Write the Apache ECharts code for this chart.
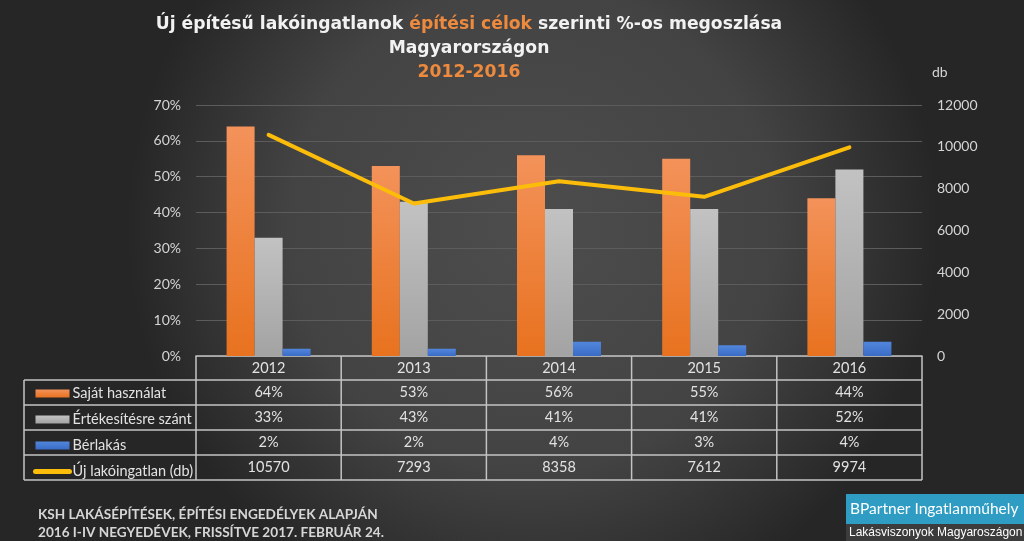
<!DOCTYPE html>
<html>
<head>
<meta charset="utf-8">
<script src="https://cdn.jsdelivr.net/npm/echarts@6/dist/echarts.min.js"></script>
<style>html,body{margin:0;padding:0;background:#333;}#c{width:1024px;height:541px;}</style>
</head>
<body>
<div id="c"></div>
<script>
const categories = ['2012', '2013', '2014', '2015', '2016'];
const sajatHasznalat = [64, 53, 56, 55, 44];
const ertekesitesre = [33, 43, 41, 41, 52];
const berlakas = [2, 2, 4, 3, 4];
const ujLakoingatlan = [10570, 7293, 8358, 7612, 9974];
const seriesNames = ['Saját használat', 'Értékesítésre szánt', 'Bérlakás', 'Új lakóingatlan (db)'];

const FONT = 'Lato';
const txt = '#e2e2e2';
const tableLine = '#c4c4c4';

const chart = echarts.init(document.getElementById('c'), null, {renderer: 'canvas'});

function grad(top, bottom) {
  return {type: 'linear', x: 0, y: 0, x2: 0, y2: 1, colorStops: [{offset: 0, color: top}, {offset: 1, color: bottom}]};
}

const option = {
  backgroundColor: {
    type: 'radial', x: 0.52, y: 0.42, r: 0.75,
    colorStops: [{offset: 0, color: '#4d4d4d'}, {offset: 0.6, color: '#434343'}, {offset: 1, color: '#262626'}]
  },
  animation: false,
  title: {
    left: 464, top: 8, textAlign: 'center',
    text: '{w|Új építésű lakóingatlanok }{o|építési célok}{w| szerinti %-os megoszlása}\n{w|Magyarországon}\n{o|2012-2016}',
    textStyle: {
      rich: {
        w: {color: '#f2f2f2', fontFamily: 'DejaVu Sans', fontWeight: 'bold', fontSize: 17.2, lineHeight: 24},
        o: {color: '#ed8a3e', fontFamily: 'DejaVu Sans', fontWeight: 'bold', fontSize: 17.2, lineHeight: 24}
      }
    }
  },
  legend: {
    orient: 'vertical', left: 28, top: 381,
    itemWidth: 34, itemHeight: 8, itemGap: 11,
    textStyle: {color: txt, fontFamily: FONT, fontSize: 14.5, lineHeight: 14, padding: [0, 0, 0, -2]},
    data: [
      {name: seriesNames[0], icon: 'rect'},
      {name: seriesNames[1], icon: 'rect'},
      {name: seriesNames[2], icon: 'rect'},
      {name: seriesNames[3], itemStyle: {opacity: 0}, lineStyle: {width: 5, cap: 'round', color: '#fbbd0a'}}
    ]
  },
  grid: {left: 196, right: 102, top: 105, bottom: 185, containLabel: false},
  xAxis: {
    type: 'category', data: categories,
    axisLine: {show: true, lineStyle: {color: tableLine, width: 1.5}},
    axisTick: {show: false},
    axisLabel: {
      margin: 0, interval: 0,
      formatter: function (v, i) {
        return '{y|' + v + '}\n{c|' + sajatHasznalat[i] + '%}\n{c|' + ertekesitesre[i] + '%}\n{c|' + berlakas[i] + '%}\n{c|' + ujLakoingatlan[i] + '}';
      },
      rich: {
        y: {color: txt, fontFamily: FONT, fontSize: 14.5, lineHeight: 24, height: 24},
        c: {color: txt, fontFamily: FONT, fontSize: 14.5, lineHeight: 25, height: 25}
      }
    }
  },
  yAxis: [
    {
      type: 'value', min: 0, max: 70, interval: 10,
      axisLine: {show: false}, axisTick: {show: false},
      axisLabel: {formatter: '{value}%', color: '#d4d4d4', fontFamily: FONT, fontSize: 14, margin: 15},
      splitLine: {lineStyle: {color: '#5c5c5c', width: 1.2}}
    },
    {
      type: 'value', min: 0, max: 12000, interval: 2000,
      name: 'db', nameLocation: 'end', nameGap: 26,
      nameTextStyle: {color: '#d4d4d4', fontFamily: FONT, fontSize: 14, align: 'left', padding: [0, 0, 0, 10]},
      axisLine: {show: false}, axisTick: {show: false},
      axisLabel: {color: '#d4d4d4', fontFamily: FONT, fontSize: 14, margin: 15, formatter: function (v) { return String(v); }},
      splitLine: {show: false}
    }
  ],
  series: [
    {
      name: seriesNames[0], type: 'bar', data: sajatHasznalat, barWidth: 28, barGap: '0%',
      itemStyle: {color: grad('#f3925a', '#e8721f')}
    },
    {
      name: seriesNames[1], type: 'bar', data: ertekesitesre, barWidth: 28, barGap: '0%',
      itemStyle: {color: grad('#c2c2c2', '#a3a3a3')}
    },
    {
      name: seriesNames[2], type: 'bar', data: berlakas, barWidth: 28, barGap: '0%',
      itemStyle: {color: grad('#5286dc', '#3a6cc6')}
    },
    {
      name: seriesNames[3], type: 'line', yAxisIndex: 1, data: ujLakoingatlan,
      symbol: 'none', z: 5,
      lineStyle: {color: '#fbbd0a', width: 4, cap: 'round', join: 'round'},
      itemStyle: {color: '#fbbd0a'}
    }
  ]
};

chart.setOption(option);

// table borders, built from the axis scale
const c0 = chart.convertToPixel({xAxisIndex: 0}, categories[0]);
const c1 = chart.convertToPixel({xAxisIndex: 0}, categories[1]);
const band = c1 - c0;
const xs = [];
for (let i = 0; i <= categories.length; i++) xs.push(c0 - band / 2 + i * band);
const yBase = chart.convertToPixel({yAxisIndex: 0}, 0);
const ys = [yBase, yBase + 24, yBase + 49, yBase + 74, yBase + 99, yBase + 124];
const tableLeft = 24;
const g = [];
const ls = {stroke: tableLine, lineWidth: 1.5};
for (let r = 1; r < ys.length; r++) {
  g.push({type: 'line', shape: {x1: tableLeft, y1: ys[r], x2: xs[xs.length - 1], y2: ys[r]}, style: ls, silent: true});
}
xs.forEach(function (x) {
  g.push({type: 'line', shape: {x1: x, y1: ys[0], x2: x, y2: ys[ys.length - 1]}, style: ls, silent: true});
});
g.push({type: 'line', shape: {x1: tableLeft, y1: ys[1], x2: tableLeft, y2: ys[ys.length - 1]}, style: ls, silent: true});

// footer
g.push({type: 'text', left: 38, top: 506, silent: true,
  style: {text: 'KSH LAKÁSÉPÍTÉSEK, ÉPÍTÉSI ENGEDÉLYEK ALAPJÁN\n2016 I-IV NEGYEDÉVEK, FRISSÍTVE 2017. FEBRUÁR 24.',
    fill: '#d6d6d6', font: 'bold 13.6px Lato', lineHeight: 18}});
// logo
g.push({type: 'rect', shape: {x: 846, y: 494, width: 178, height: 30}, style: {fill: '#2e9cc3'}, silent: true});
g.push({type: 'rect', shape: {x: 846, y: 524, width: 178, height: 17}, style: {fill: '#3c3c3c'}, silent: true});
g.push({type: 'text', x: 850, y: 509, silent: true,
  style: {text: 'BPartner Ingatlanműhely', fill: '#ffffff', font: '15.5px Lato', textVerticalAlign: 'middle'}});
g.push({type: 'text', x: 849, y: 533, silent: true,
  style: {text: 'Lakásviszonyok Magyaroszágon', fill: '#ffffff', font: '12px "Liberation Sans"', textVerticalAlign: 'middle'}});

chart.setOption({graphic: g});
</script>
</body>
</html>
